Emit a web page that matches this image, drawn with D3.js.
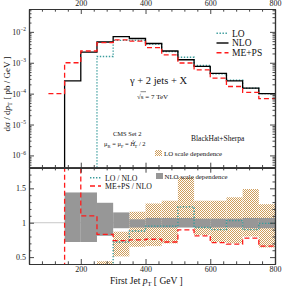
<!DOCTYPE html>
<html>
<head>
<meta charset="utf-8">
<script src="https://cdn.jsdelivr.net/npm/d3@7"></script>
<style>
  body { margin:0; background:#fff; }
  svg { display:block; font-family:"Liberation Serif","DejaVu Serif",serif; }
</style>
</head>
<body>
<svg id="chart"></svg>
<script>
// bins in GeV, values per bin (left edge)
var binEdges = [100,150,200,250,300,350,400,450,500,550,600,650,700,750,800]

var nloVals  = [0, 2.6e-4, 2.2e-3, 4.7e-3, 7.0e-3, 6.1e-3, 4.2e-3, 2.4e-3, 1.25e-3, 7.6e-4, 4.5e-4, 2.6e-4, 1.5e-4, 1.0e-4]
var mepsVals = [1.0e-4, 1.0e-3, 2.4e-3, 4.5e-3, 5.5e-3, 5.0e-3, 3.1e-3, 1.8e-3, 9.8e-4, 5.9e-4, 3.2e-4, 1.7e-4, 1.1e-4, 6.9e-5]
var loVals   = [0, 0, 0, 1.6e-3, 5.3e-3, 5.3e-3, 4.0e-3, 2.3e-3, 1.5e-3, 8.2e-4, 4.4e-4, 2.7e-4, 1.5e-4, 1.0e-4]

// ratio panel
var loOverNlo   = [null, null, null, 0.34, 0.72, 0.88, 0.95, 0.95, 1.23, 0.93, 0.90, 1.03, 0.90, 0.99]
var mepsOverNlo = [0, 3.8, 1.10, 0.83, 0.74, 0.75, 0.76, 0.72, 0.895, 0.81, 0.71, 0.69, 0.775, 0.66]
var nloBandLow  = [null, 0.72, 0.72, 0.81, 0.92, 0.93, 0.93, 0.93, 0.93, 0.93, 0.93, 0.93, 0.92, 0.92]
var nloBandHigh = [null, 1.44, 1.44, 1.29, 1.15, 1.05, 1.07, 1.07, 1.07, 1.06, 1.06, 1.06, 1.07, 1.07]
var loBandLow   = [null, null, null, 0.30, 0.51, 0.65, 0.66, 0.70, 0.95, 0.82, 0.72, 0.70, 0.80, 0.64]
var loBandHigh  = [null, null, null, 0.44, 0.87, 1.16, 1.28, 1.32, 1.66, 1.32, 1.32, 1.37, 1.49, 1.27]

var xMajor = [200,400,600,800]
var decades = [1e-6,1e-5,1e-4,1e-3,1e-2]
var ratioMajor = [0.5,1,1.5]

var size = {width:282,height:287}
var frame = {left:29,right:275,top:9,mid:167.7,bottom:264}

var colors = {nlo:"#000", meps:"#ff1a1a", lo:"#3a9c9c", band:"#979797", hatch:"#cf9d5a"}

var svg = d3.select("#chart")
  .attr("width",size.width)
  .attr("height",size.height)

var defs = svg.append("defs")
var pat = defs.append("pattern")
  .attr("id","checks")
  .attr("width",2).attr("height",2)
  .attr("patternUnits","userSpaceOnUse")
pat.append("rect").attr("width",2).attr("height",2).attr("fill","#fff")
pat.append("rect").attr("x",0).attr("y",0).attr("width",1).attr("height",1).attr("fill",colors.hatch)
pat.append("rect").attr("x",1).attr("y",1).attr("width",1).attr("height",1).attr("fill",colors.hatch)

defs.append("clipPath").attr("id","clipTop").append("rect")
  .attr("x",frame.left).attr("y",frame.top)
  .attr("width",frame.right-frame.left).attr("height",frame.mid-frame.top)
defs.append("clipPath").attr("id","clipBot").append("rect")
  .attr("x",frame.left).attr("y",frame.mid)
  .attr("width",frame.right-frame.left).attr("height",frame.bottom-frame.mid)

var xScale = d3.scaleLinear().domain([40,800]).range([frame.left,frame.right])
var yTop = d3.scaleLog().domain([4e-7,0.055]).range([frame.mid,frame.top])
var yBot = d3.scaleLinear().domain([0.4,1.8]).range([frame.bottom,frame.mid])

// turn per-bin values into step points (left edges + closing point)
var stepPoints = function(vals, floor)
{
  var pts = []
  vals.forEach(function(v,i){
    if (v === null) return
    pts.push([binEdges[i], v <= 0 ? floor : v])
  })
  var lastV = pts[pts.length-1][1]
  pts.push([binEdges[binEdges.length-1], lastV])
  return pts
}

// ---------- top panel ----------
var topG = svg.append("g").attr("clip-path","url(#clipTop)")

var lineTop = d3.line()
  .x(function(d){return xScale(d[0])})
  .y(function(d){return yTop(d[1])})
  .curve(d3.curveStepAfter)

topG.append("path").datum(stepPoints(loVals,1e-9))
  .attr("d",lineTop).attr("fill","none")
  .attr("stroke",colors.lo).attr("stroke-width",1.4).attr("stroke-dasharray","1.4,1.6")
topG.append("path").datum(stepPoints(nloVals,1e-9))
  .attr("d",lineTop).attr("fill","none")
  .attr("stroke",colors.nlo).attr("stroke-width",1.3)
topG.append("path").datum(stepPoints(mepsVals,1e-9))
  .attr("d",lineTop).attr("fill","none")
  .attr("stroke",colors.meps).attr("stroke-width",1.3).attr("stroke-dasharray","5,3")

// ---------- bottom panel ----------
var botG = svg.append("g").attr("clip-path","url(#clipBot)")

botG.append("line")
  .attr("x1",frame.left).attr("x2",frame.right)
  .attr("y1",yBot(1)).attr("y2",yBot(1))
  .attr("stroke","#c8c8c8").attr("stroke-width",1)

var bandRects = function(lows, highs, fill)
{
  var idx = d3.range(lows.length).filter(function(i){return lows[i] !== null})
  botG.append("g").selectAll("rect")
    .data(idx)
    .enter()
    .append("rect")
    .attr("x",function(i){return xScale(binEdges[i])})
    .attr("width",function(i){return xScale(binEdges[i+1]) - xScale(binEdges[i])})
    .attr("y",function(i){return yBot(highs[i])})
    .attr("height",function(i){return yBot(lows[i]) - yBot(highs[i])})
    .attr("fill",fill)
}
bandRects(loBandLow, loBandHigh, "url(#checks)")
bandRects(nloBandLow, nloBandHigh, colors.band)

var lineBot = d3.line()
  .x(function(d){return xScale(d[0])})
  .y(function(d){return yBot(d[1])})
  .curve(d3.curveStepAfter)

botG.append("path").datum(stepPoints(loOverNlo,0))
  .attr("d",lineBot).attr("fill","none")
  .attr("stroke",colors.lo).attr("stroke-width",1.4).attr("stroke-dasharray","1.4,1.6")
botG.append("path").datum(stepPoints(mepsOverNlo,0))
  .attr("d",lineBot).attr("fill","none")
  .attr("stroke",colors.meps).attr("stroke-width",1.3).attr("stroke-dasharray","5,3")

// ---------- axes ----------
var axisColor = "#333"
var styleAxis = function(g)
{
  g.selectAll("path.domain").attr("stroke",axisColor).attr("stroke-width",1.2)
  g.selectAll(".tick line").attr("stroke",axisColor).attr("stroke-width",0.9)
  g.selectAll(".tick text").attr("fill","#222").attr("font-size",8)
    .attr("font-family","Liberation Serif, DejaVu Serif, serif")
}

var xMinor = d3.range(40,801,40).filter(function(v){return xMajor.indexOf(v) < 0})
var logMinor = []
for (var e = -7; e <= -2; e++) {
  for (var k = 2; k <= 9; k++) {
    var v = k*Math.pow(10,e)
    if (v >= 4e-7 && v <= 0.055) logMinor.push(v)
  }
}
var ratioMinor = d3.range(0.4,1.81,0.1).map(function(v){return Math.round(v*10)/10})
  .filter(function(v){return ratioMajor.indexOf(v) < 0})

var addAxis = function(gen, tx, ty, major, minor, bigTick, smallTick, labels)
{
  var g = svg.append("g").attr("transform","translate("+tx+","+ty+")")
  g.call(gen().tickValues(minor).tickSize(smallTick).tickSizeOuter(0).tickFormat(""))
  var g2 = svg.append("g").attr("transform","translate("+tx+","+ty+")")
  g2.call(gen().tickValues(major).tickSize(bigTick).tickSizeOuter(0).tickFormat(labels ? labels : ""))
  styleAxis(g); styleAxis(g2)
  return g2
}

// top panel
addAxis(function(){return d3.axisTop(xScale)}, 0, frame.top, xMajor, xMinor, -5, -2.7, d3.format("d"))
addAxis(function(){return d3.axisBottom(xScale)}, 0, frame.mid, xMajor, xMinor, -5, -2.7, null)
var yAx = addAxis(function(){return d3.axisLeft(yTop)}, frame.left, 0, decades, logMinor, -5, -2.5, function(){return ""})
addAxis(function(){return d3.axisRight(yTop)}, frame.right, 0, decades, logMinor, -5, -2.5, null)

yAx.selectAll(".tick text").each(function(d){
  var t = d3.select(this)
  t.append("tspan").text("10")
  t.append("tspan").attr("dy",-3.5).attr("font-size",5.5).text("\u2212"+Math.round(-Math.log10(d)))
})

// bottom panel
addAxis(function(){return d3.axisTop(xScale)}, 0, frame.mid, xMajor, xMinor, -5, -2.7, null)
var xb = addAxis(function(){return d3.axisBottom(xScale)}, 0, frame.bottom, xMajor, xMinor, -5, -2.7, d3.format("d"))
xb.selectAll(".tick text").attr("dy","0.62em")
addAxis(function(){return d3.axisLeft(yBot)}, frame.left, 0, ratioMajor, ratioMinor, -5, -2.5, d3.format("~g"))
addAxis(function(){return d3.axisRight(yBot)}, frame.right, 0, ratioMajor, ratioMinor, -5, -2.5, null)

// ---------- texts ----------
var txt = function(x, y, fs, anchor)
{
  return svg.append("text").attr("x",x).attr("y",y)
    .attr("font-size",fs).attr("fill","#111")
    .attr("text-anchor",anchor || "start")
}

// top legend
var legTop = [
  {label:"LO", color:colors.lo, dash:"1.4,1.6", y:33.3},
  {label:"NLO", color:colors.nlo, dash:null, y:43},
  {label:"ME+PS", color:colors.meps, dash:"5,3", y:52.7}
]
legTop.forEach(function(d){
  svg.append("line").attr("x1",216.5).attr("x2",228.5).attr("y1",d.y).attr("y2",d.y)
    .attr("stroke",d.color).attr("stroke-width",1.4).attr("stroke-dasharray",d.dash)
  txt(232,d.y+3.3,9.5).text(d.label)
})

var g1 = txt(130,84,10.5)
g1.text("\u03b3 + 2 jets + X")

var rs = txt(137,99,7)
rs.append("tspan").text("\u221as")
rs.append("tspan").text("  =  7 TeV")
svg.append("line").attr("x1",140.5).attr("x2",146).attr("y1",91.7).attr("y2",91.7)
  .attr("stroke","#111").attr("stroke-width",0.5)

txt(113,136,6.5).text("CMS Set 2")
var mu = txt(104,146,6.5)
mu.append("tspan").text("\u03bc")
mu.append("tspan").attr("font-size",4.5).attr("dy",1.5).text("R")
mu.append("tspan").attr("dy",-1.5).text(" = \u03bc")
mu.append("tspan").attr("font-size",4.5).attr("dy",1.5).text("F")
mu.append("tspan").attr("dy",-1.5).text(" = ")
mu.append("tspan").attr("font-style","italic").text("\u0124")
mu.append("tspan").attr("font-size",4.5).attr("dy",-2.5).text("\u2032")
mu.append("tspan").attr("font-size",4.5).attr("dy",4).attr("dx",-1.5).text("T")
mu.append("tspan").attr("dy",-1.5).text(" / 2")

txt(191,141,7.5).text("BlackHat+Sherpa")

svg.append("rect").attr("x",155).attr("y",150).attr("width",7).attr("height",6).attr("fill","url(#checks)")
txt(164,156,6.8).text("LO scale dependence")

// bottom legend
var legBot = [
  {label:"LO / NLO", color:colors.lo, dash:"1.4,1.6", y:177.7},
  {label:"ME+PS / NLO", color:colors.meps, dash:"5,3", y:186}
]
legBot.forEach(function(d){
  svg.append("line").attr("x1",90).attr("x2",101).attr("y1",d.y).attr("y2",d.y)
    .attr("stroke",d.color).attr("stroke-width",1.4).attr("stroke-dasharray",d.dash)
  txt(105,d.y+3,7.8).text(d.label)
})
svg.append("rect").attr("x",156).attr("y",173).attr("width",7).attr("height",6).attr("fill",colors.band)
txt(164.5,178.5,6.8).text("NLO scale dependence")

// axis titles
var xt = txt(110,284,9.5)
xt.append("tspan").text("First Jet  ")
xt.append("tspan").attr("font-style","italic").text("p")
xt.append("tspan").attr("font-size",6.5).attr("dy",2).text("T")
xt.append("tspan").attr("dy",-2).text("   [ GeV ]")

var yt = svg.append("text")
  .attr("transform","translate(9.5,94) rotate(-90)")
  .attr("text-anchor","middle").attr("font-size",9).attr("fill","#111")
yt.append("tspan").text("d\u03c3 / d")
yt.append("tspan").attr("font-style","italic").text("p")
yt.append("tspan").attr("font-size",6.5).attr("dy",2).text("T")
yt.append("tspan").attr("dy",-2).text("   [ pb / GeV ]")
</script>
</body>
</html>
